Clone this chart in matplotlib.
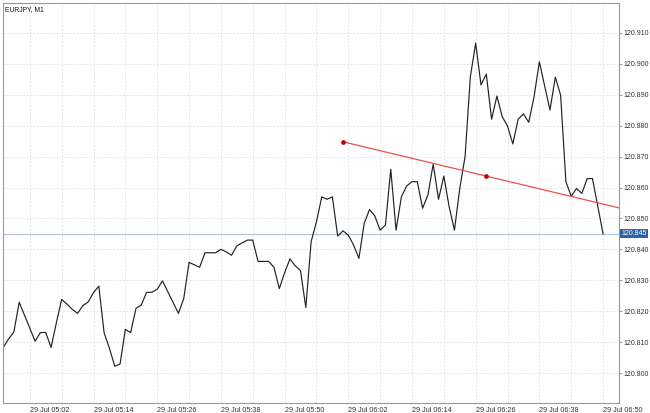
"""
EURJPY M1 line chart (MetaTrader style) with trendline
"""

import numpy as np
import matplotlib.pyplot as plt
from matplotlib.ticker import FixedLocator, FuncFormatter

plt.rcParams["font.family"] = ["Liberation Sans", "DejaVu Sans"]

SYMBOL = "EURJPY, M1"
START_HOUR, START_MIN = 4, 57  # first bar = 29 Jul 04:57

# close prices, one per minute
close = [
    120.8083, 120.8110, 120.8133, 120.8229, 120.8187, 120.8145, 120.8103, 120.8131,
    120.8131, 120.8083, 120.8162, 120.8238, 120.8223, 120.8206, 120.8193, 120.8218,
    120.8230, 120.8260, 120.8281, 120.8130, 120.8080, 120.8022, 120.8029, 120.8141,
    120.8131, 120.8209, 120.8220, 120.8261, 120.8261, 120.8271, 120.8298, 120.8263,
    120.8228, 120.8193, 120.8241, 120.8358, 120.8350, 120.8342, 120.8389, 120.8389,
    120.8389, 120.8400, 120.8392, 120.8381, 120.8411, 120.8421, 120.8430, 120.8430,
    120.8361, 120.8361, 120.8361, 120.8342, 120.8273, 120.8324, 120.8369, 120.8347,
    120.8331, 120.8212, 120.8425, 120.8489, 120.8570, 120.8562, 120.8570, 120.8443,
    120.8460, 120.8446, 120.8414, 120.8371, 120.8484, 120.8529, 120.8508, 120.8462,
    120.8479, 120.8659, 120.8462, 120.8570, 120.8605, 120.8619, 120.8619, 120.8533,
    120.8576, 120.8676, 120.8562, 120.8637, 120.8538, 120.8462, 120.8597, 120.8700,
    120.8959, 120.9067, 120.8932, 120.8967, 120.8821, 120.8896, 120.8829, 120.8799,
    120.8741, 120.8821, 120.8838, 120.8811, 120.8894, 120.9007, 120.8928, 120.8851,
    120.8957, 120.8899, 120.8619, 120.8572, 120.8597, 120.8581, 120.8629, 120.8629,
    120.8540, 120.8450,
]

# trendline anchors (bar index, price)
trend_bars = [64, 91]
trend_prices = [120.8748, 120.8637]

price_ticks = [120.800, 120.810, 120.820, 120.830, 120.840, 120.850,
               120.860, 120.870, 120.880, 120.890, 120.900, 120.910]
current_price = 120.845


def bar_label(i):
    total = START_HOUR * 60 + START_MIN + int(round(i))
    return f"29 Jul {total // 60:02d}:{total % 60:02d}"


def main():
    x = np.arange(len(close))

    fig = plt.figure(figsize=(6.5, 4.13), dpi=100)
    ax = fig.add_axes([3 / 650, 10 / 413, 616 / 650, 400 / 413])

    # grid
    ax.set_xticks(np.arange(-1, 116, 6))
    ax.set_yticks(price_ticks)
    ax.grid(True, color="#dddddd", linestyle=(0, (2, 2)), linewidth=0.6)
    ax.set_axisbelow(True)

    # price line + current price level
    ax.axhline(current_price, color="#b7c6d9", linewidth=0.9)
    ax.plot(x, close, color="#222222", linewidth=0.85)

    # trendline (ray to the right)
    slope = (trend_prices[1] - trend_prices[0]) / (trend_bars[1] - trend_bars[0])
    x_end = 116
    y_end = trend_prices[0] + slope * (x_end - trend_bars[0])
    ax.plot([trend_bars[0], x_end], [trend_prices[0], y_end],
            color="#e8524a", linewidth=0.9)
    ax.plot(trend_bars, trend_prices, "o", color="#c00000", markersize=2.4)

    ax.set_xlim(-0.05, 116)
    ax.set_ylim(120.7903, 120.9197)

    # x labels every 12 bars, left aligned at tick
    ax.xaxis.set_major_locator(FixedLocator(np.arange(-1, 116, 6)))
    ax.tick_params(axis="x", length=0, labelbottom=False)
    for i in range(5, 116, 12):
        ax.annotate(bar_label(i), xy=(i, 0), xycoords=("data", "axes fraction"),
                    xytext=(0, -3), textcoords="offset points",
                    ha="left", va="top", fontsize=5.2, color="#333333")

    # y labels on the right
    ax.yaxis.tick_right()
    ax.yaxis.set_major_formatter(FuncFormatter(lambda v, p: f"{v:.3f}"))
    ax.tick_params(axis="y", length=2.5, width=0.5, color="#777777",
                   labelsize=5, labelcolor="#333333", pad=1)

    # current price tag
    ax.annotate(f"{current_price:.3f}", xy=(1, current_price),
                xycoords=("axes fraction", "data"),
                xytext=(1.5, 0), textcoords="offset points",
                ha="left", va="center", fontsize=5, color="white",
                bbox=dict(boxstyle="square,pad=0.15", fc="#2f62a3", ec="none"))

    for s in ax.spines.values():
        s.set_color("#999999")
        s.set_linewidth(0.8)

    ax.text(0.003, 0.992, SYMBOL, transform=ax.transAxes, ha="left", va="top",
            fontsize=4.9, color="#111111")

    fig.savefig("out.png", dpi=100)


if __name__ == "__main__":
    main()
